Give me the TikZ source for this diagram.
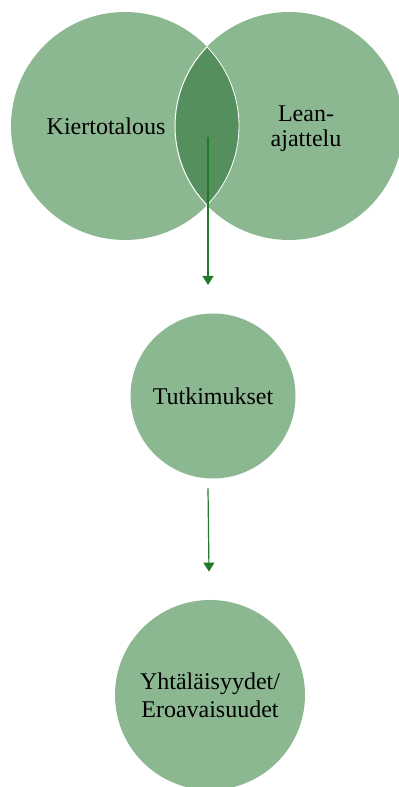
\documentclass[tikz,border=0pt]{standalone}
\usepackage{fontspec}
\setmainfont{Liberation Serif}
\usetikzlibrary{arrows.meta,calc,positioning}
\definecolor{sagegreen}{RGB}{140,184,145}
\definecolor{mossgreen}{RGB}{85,143,93}
\definecolor{forestgreen}{RGB}{33,122,43}
\tikzset{
  conjunto/.style={
    circle,
    fill=sagegreen,
    draw=none,
    minimum size=114pt,
    inner sep=0pt
  },
  etapa/.style={
    circle,
    fill=sagegreen,
    draw=none,
    align=center,
    inner sep=0pt
  },
  texto/.style={
    align=center,
    font=\fontsize{12}{12.5}\selectfont
  },
  arrow/.style={
    -{Triangle[length=4.5pt,width=5.5pt]},
    line width=0.6pt,
    forestgreen
  }
}
\begin{document}
\begin{tikzpicture}[x=0.5pt,y=0.5pt,font=\fontsize{12}{12.5}\selectfont]
\useasboundingbox (0,0) rectangle (398,787);
% venn
\node[conjunto, label={[texto, xshift=-9.5pt]center:Kiertotalous}] (kierto) at (125,661) {};
\node[conjunto, label={[texto, xshift=8.5pt, yshift=-1.5pt]center:Lean-\\ajattelu}] (lean) at (289,661) {};
\begin{scope}
  \clip (kierto.center) circle (57pt);
  \fill[mossgreen] (lean.center) circle (57pt);
  \draw[white, line width=0.5pt] (lean.center) circle (57pt);
\end{scope}
\begin{scope}
  \clip (lean.center) circle (57pt);
  \draw[white, line width=0.4pt] (kierto.center) circle (57pt);
\end{scope}
% vaiheet
\node[etapa, minimum size=82.5pt] (tutk) at (213,391) {Tutkimukset};
\node[etapa, minimum size=95pt, font=\fontsize{12}{14}\selectfont] (tulos) at (210,92) {Yhtäläisyydet/\\Eroavaisuudet};
\coordinate (overlap) at (208,650);
\coordinate (tip) at (208,502);
\draw[arrow] (overlap) -- (tip);
\draw[arrow] ($(tutk.south)+(-5,-9.5)$) -- ($(tulos.north)+(-1,28)$);
\end{tikzpicture}
\end{document}
